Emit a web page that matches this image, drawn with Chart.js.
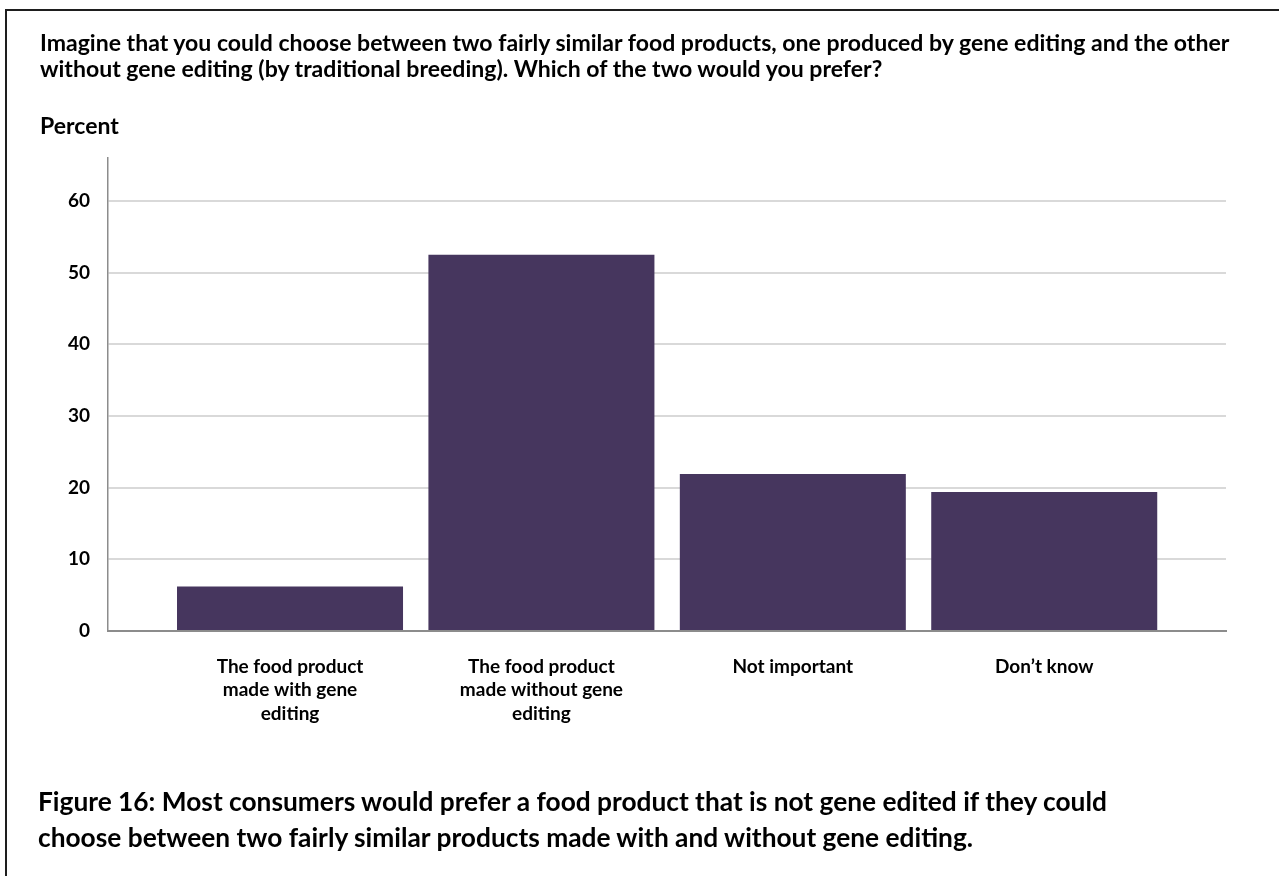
<!DOCTYPE html>
<html>
<head>
<meta charset="utf-8">
<script src="https://cdn.jsdelivr.net/npm/chart.js@4.4.1/dist/chart.umd.min.js"></script>
<style>
  html, body { margin: 0; padding: 0; background: #fff; }
  body { width: 1279px; height: 876px; position: relative; overflow: hidden; font-family: Lato, "Open Sans", sans-serif; font-weight: 700; color: #000; }
  #frameTop { position: absolute; left: 5px; top: 9px; width: 1274px; height: 0; border-top: 2px solid #1e1e1e; }
  #frameLeft { position: absolute; left: 5px; top: 9px; width: 0; height: 867px; border-left: 2px solid #1e1e1e; }
  .line { position: absolute; white-space: nowrap; line-height: 1; }
  canvas { position: absolute; left: 0; top: 0; }
</style>
</head>
<body>
<div id="frameTop"></div>
<div id="frameLeft"></div>
<canvas id="c" width="1279" height="876"></canvas>
<div class="line" id="t1"></div>
<div class="line" id="t2"></div>
<div class="line" id="yTitle"></div>
<div class="line" id="f1"></div>
<div class="line" id="f2"></div>
<script>
// ---- data ----
const titleLines = [
  "Imagine that you could choose between two fairly similar food products, one produced by gene editing and the other",
  "without gene editing (by traditional breeding). Which of the two would you prefer?"
];
const yAxisTitle = "Percent";
const categories = [
  ["The food product", "made with gene", "editing"],
  ["The food product", "made without gene", "editing"],
  ["Not important"],
  ["Don\u2019t know"]
];
const percentValues = [6.2, 52.5, 21.9, 19.4];
const yTicks = [0, 10, 20, 30, 40, 50, 60];
const captionLines = [
  "Figure 16: Most consumers would prefer a food product that is not gene edited if they could",
  "choose between two fairly similar products made with and without gene editing."
];

// ---- text blocks ----
function place(id, text, x, yCenter, size) {
  const el = document.getElementById(id);
  el.textContent = text;
  el.style.fontSize = size + 'px';
  el.style.left = x + 'px';
  el.style.top = (yCenter - size * 0.55) + 'px';
  return el;
}
function fitSize(text, target, family) {
  const ctx = document.createElement('canvas').getContext('2d');
  ctx.font = '700 100px ' + family;
  return 100 * target / ctx.measureText(text).width;
}
const fam = 'Lato';
const tSize = fitSize(titleLines[0], 1192, fam);
place('t1', titleLines[0], 40, 44, tSize);
place('t2', titleLines[1], 40, 70, tSize);
place('yTitle', yAxisTitle, 40, 127, tSize);
const fSize = fitSize(captionLines[0], 1072, fam);
place('f1', captionLines[0], 38, 802, fSize);
place('f2', captionLines[1], 38, 838, fSize);

// ---- chart ----
const gridColor = '#d9d9d9';
const axisColor = '#8c8c8c';
new Chart(document.getElementById('c'), {
  type: 'bar',
  data: {
    datasets: [{
      data: percentValues.map((v, i) => ({ x: i, y: v })),
      backgroundColor: '#46365e',
      borderWidth: 0,
      barPercentage: 1,
      categoryPercentage: 0.899
    }]
  },
  options: {
    responsive: false,
    animation: false,
    layout: { padding: { top: 158, right: 53, left: 0, bottom: 0 } },
    plugins: { legend: { display: false }, tooltip: { enabled: false } },
    scales: {
      x: {
        type: 'linear',
        offset: false,
        min: -0.724,
        max: 3.723,
        afterFit: s => { s.height = 245; },
        afterBuildTicks: s => { s.ticks = categories.map((c, i) => ({ value: i })); },
        grid: { display: false, drawTicks: false, offset: false },
        border: { display: true, color: axisColor, width: 2 },
        ticks: {
          autoSkip: false,
          maxRotation: 0,
          padding: 24,
          color: '#000',
          font: { family: fam, weight: 'bold', size: 19, lineHeight: 1.24 },
          callback: v => categories[v]
        }
      },
      y: {
        min: 0,
        max: 66,
        afterFit: s => { s.width = 108; },
        afterBuildTicks: s => { s.ticks = yTicks.map(v => ({ value: v })); },
        grid: { color: gridColor, lineWidth: 2, drawTicks: false },
        border: { display: true, color: axisColor, width: 1.5 },
        ticks: {
          padding: 18,
          color: '#000',
          font: { family: fam, weight: 'bold', size: 19 }
        }
      }
    }
  }
});
</script>
</body>
</html>
